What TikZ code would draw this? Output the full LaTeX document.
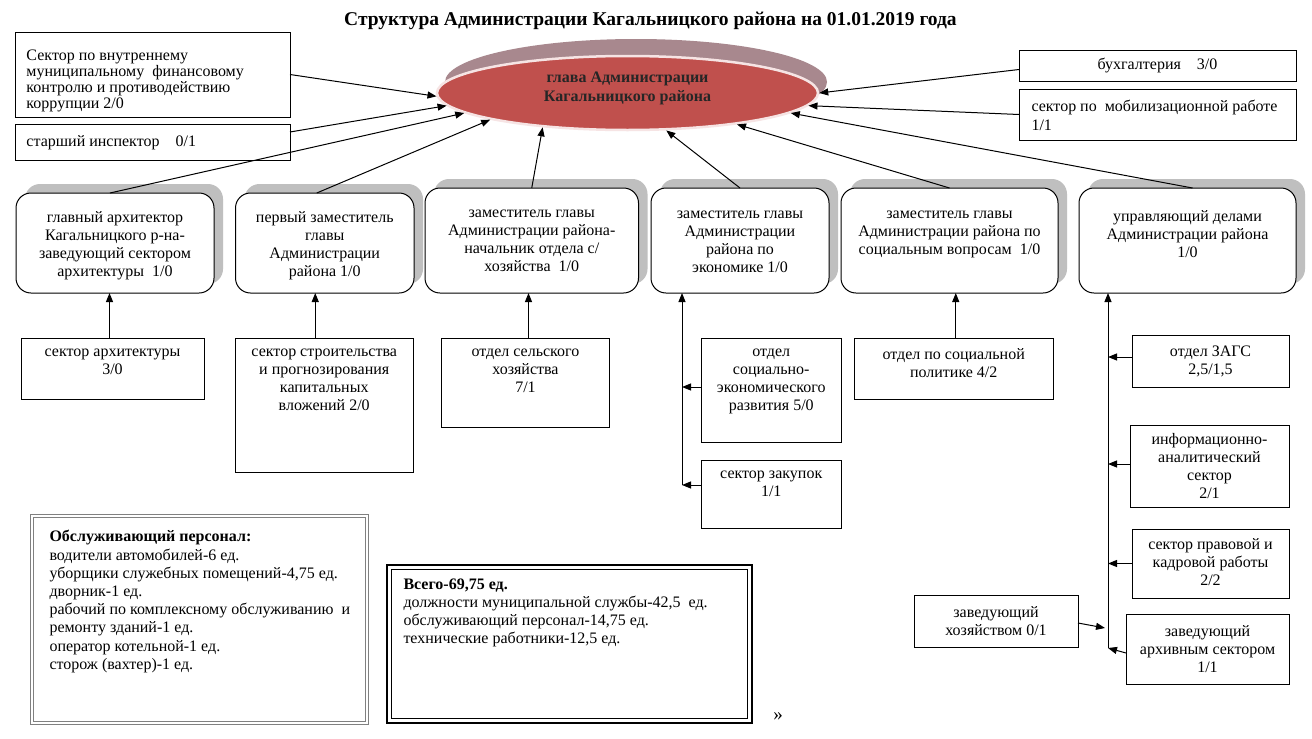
\documentclass[tikz,border=0pt]{standalone}
\usepackage{fontspec}
\setmainfont{Liberation Serif}
\usetikzlibrary{arrows.meta,shapes.geometric,shadows,calc}
\definecolor{headred}{HTML}{C0504D}
\definecolor{headsh}{HTML}{A8888E}
\definecolor{headrim}{HTML}{F6E4E4}
\definecolor{boxsh}{HTML}{BFBFBF}
\begin{document}
\begin{tikzpicture}[x=1pt,y=-1pt, font=\fontsize{16}{18}\selectfont, line width=1pt,
  sq/.style={draw, rectangle, inner sep=0pt, outer sep=0pt},
  rb/.style={draw, rectangle, rounded corners=15pt, fill=white, inner sep=0pt, outer sep=0pt,
     drop shadow={shadow xshift=9pt, shadow yshift=9pt, fill=boxsh, opacity=1}},
  tx/.style={anchor=north, align=center, inner sep=0pt, font=\fontsize{16}{18}\selectfont},
  txl/.style={anchor=north west, align=left, inner sep=0pt, font=\fontsize{16}{18.2}\selectfont},
  arr/.style={-{Triangle[length=9pt,width=7pt]}, line width=1pt},
]
\useasboundingbox (0,0) rectangle (1312,739);
\fill[white] (0,0) rectangle (1312,739);

% title
\node[font=\bfseries\fontsize{19.5}{22}\selectfont] (title) at (650.5,21) {Структура Администрации Кагальницкого района на 01.01.2019 года};

% head
\node[ellipse, fill=headsh, minimum width=382pt, minimum height=86pt, inner sep=0pt] (headshadow) at (636,82) {};
\node[ellipse, fill=headred, draw=headrim, line width=2.5pt, minimum width=381pt, minimum height=74pt, inner sep=0pt,
  label={[anchor=center, align=center, yshift=5pt, inner sep=0pt, text=black!85, font=\bfseries\fontsize{16}{19}\selectfont]center:глава Администрации\\Кагальницкого района}] (head) at (627.5,93) {};

% top-left boxes
\node[sq, minimum width=275pt, minimum height=85pt,
  label={[txl, font=\fontsize{16}{16}\selectfont, xshift=11pt, yshift=-17pt]north west:Сектор по внутреннему\\муниципальному~ финансовому\\контролю и противодействию\\коррупции 2/0}] (boxA) at (152.5,74.5) {};
\node[sq, minimum width=275pt, minimum height=36pt,
  label={[txl, xshift=11pt, yshift=-11pt]north west:старший инспектор\quad 0/1}] (boxB) at (152.5,142) {};

% top-right boxes
\node[sq, minimum width=277pt, minimum height=31pt,
  label={[anchor=center, inner sep=0pt]center:бухгалтерия\quad 3/0}] (buh) at (1157.5,65.5) {};
\node[sq, minimum width=277pt, minimum height=51pt,
  label={[txl, xshift=12pt, yshift=-11pt]north west:сектор по~ мобилизационной работе\\1/1}] (mob) at (1157.5,114.5) {};

% rounded boxes
\node[rb, minimum width=198pt, minimum height=100pt,
  label={[tx, yshift=-18pt]north:главный архитектор\\Кагальницкого р-на-\\заведующий сектором\\архитектуры~ 1/0}] (b1) at (115,243) {};
\node[rb, minimum width=178.5pt, minimum height=100pt,
  label={[tx, yshift=-18pt]north:первый заместитель\\главы\\Администрации\\района 1/0}] (b2) at (324.75,243) {};
\node[rb, minimum width=213.5pt, minimum height=105pt,
  label={[tx, yshift=-21pt]north:заместитель главы\\Администрации района-\\начальник отдела с/\\хозяйства~ 1/0}] (b3) at (531.75,240.5) {};
\node[rb, minimum width=178pt, minimum height=105pt,
  label={[tx, yshift=-22pt]north:заместитель главы\\Администрации\\района по\\экономике 1/0}] (b4) at (740,240.5) {};
\node[rb, minimum width=217pt, minimum height=105pt,
  label={[tx, yshift=-22pt]north:заместитель главы\\Администрации района по\\социальным вопросам~ 1/0}] (b5) at (949.5,240.5) {};
\node[rb, minimum width=217pt, minimum height=105pt,
  label={[tx, yshift=-22pt]north:управляющий делами\\Администрации района\\1/0}] (b6) at (1187.5,240.5) {};

% sub boxes
\node[sq, minimum width=183pt, minimum height=61pt,
  label={[tx, yshift=-10pt]north:сектор архитектуры\\3/0}] (sa) at (112.5,368.5) {};
\node[sq, minimum width=177.5pt, minimum height=134pt,
  label={[tx, yshift=-10pt]north:сектор строительства\\и прогнозирования\\капитальных\\вложений 2/0}] (ss) at (324.25,405) {};
\node[sq, minimum width=168pt, minimum height=89pt,
  label={[tx, yshift=-10pt]north:отдел сельского\\хозяйства\\7/1}] (sh) at (525.5,382.5) {};
\node[sq, minimum width=140.5pt, minimum height=104pt,
  label={[tx, yshift=-10pt]north:отдел\\социально-\\экономического\\развития 5/0}] (sed) at (771.25,390) {};
\node[sq, minimum width=140.5pt, minimum height=68pt,
  label={[tx, yshift=-10pt]north:сектор закупок\\1/1}] (zak) at (771.25,494) {};
\node[sq, minimum width=199.5pt, minimum height=61pt,
  label={[tx, yshift=-10pt]north:отдел по социальной\\политике 4/2}] (soc) at (953.75,368.5) {};
\node[sq, minimum width=157pt, minimum height=52pt,
  label={[tx, yshift=-10pt]north:отдел ЗАГС\\2,5/1,5}] (zags) at (1210.5,361) {};
\node[sq, minimum width=159pt, minimum height=82pt,
  label={[tx, yshift=-8pt]north:информационно-\\аналитический\\сектор\\2/1}] (info) at (1209.5,466) {};
\node[sq, minimum width=157pt, minimum height=69pt,
  label={[tx, yshift=-9pt]north:сектор правовой и\\кадровой работы\\2/2}] (prav) at (1210.5,563.5) {};
\node[sq, minimum width=163pt, minimum height=70pt,
  label={[tx, yshift=-11pt]north:заведующий\\архивным сектором\\1/1}] (arch) at (1207.5,649) {};
\node[sq, minimum width=164pt, minimum height=52pt,
  label={[tx, yshift=-11pt]north:заведующий\\хозяйством 0/1}] (hoz) at (996,621) {};

% bottom boxes
\node[sq, draw=black!50, double=white, double distance=2pt, line width=1pt, minimum width=335pt, minimum height=207pt,
  label={[txl, xshift=17pt, yshift=-14pt]north west:\textbf{Обслуживающий персонал:}\\водители автомобилей-6 ед.\\уборщики служебных помещений-4,75 ед.\\дворник-1 ед.\\рабочий по комплексному обслуживанию~ и\\ремонту зданий-1 ед.\\оператор котельной-1 ед.\\сторож (вахтер)-1 ед.}] (obsl) at (199.5,619.5) {};
\node[sq, line width=2.5pt, minimum width=365pt, minimum height=158pt,
  label={[txl, xshift=16pt, yshift=-13pt]north west:\textbf{Всего-69,75 ед.}\\должности муниципальной службы-42,5~ ед.\\обслуживающий персонал-14,75 ед.\\технические работники-12,5 ед.}] (vs) at (569.5,644) {};
\draw[line width=0.8pt] ($(vs.north west)+(4.5,4.5)$) rectangle ($(vs.south east)+(-4.5,-4.5)$);
\node[font=\fontsize{19}{20}\selectfont] (qq) at (778,717) {»};

% arrows into head
\draw[arr] (boxA.east) -- (head.181);
\draw[arr] ($(boxB.east)+(0,-10)$) -- (head.184);
\draw[arr] ($(b1.north)+(-5,0)$) -- (head.187);
\draw[arr] ($(b2.north)+(-8,0)$) -- (head.191);
\draw[arr] (b3.north) -- (head.202);
\draw[arr] (b4.north) -- (head.316);
\draw[arr] (b5.north) -- (head.344.5);
\draw[arr] ($(b6.north)+(5,0)$) -- (head.353);
\draw[arr] (mob.west) -- (head.356);
\draw[arr] ($(buh.west)+(0,4)$) -- (head.0);

% sub arrows
\draw[arr] ($(sa.north)+(-3,0)$) -- ($(sa.north |- b1.south)+(-3,0)$);
\draw[arr] ($(ss.north)+(-9,0)$) -- ($(ss.north |- b2.south)+(-9,0)$);
\draw[arr] ($(sh.north)+(3,0)$) -- ($(sh.north |- b3.south)+(3,0)$);
\draw[arr] ($(soc.north)+(2,0)$) -- ($(soc.north |- b5.south)+(2,0)$);

% economy line
\coordinate (ebot) at (682,485);
\draw[arr] (ebot) -- (ebot |- b4.south);
\draw[arr] ($(sed.west)+(0,-3)$) -- ($(sed.west -| ebot)+(0,-3)$);
\draw[arr] ($(zak.west)+(0,-9)$) -- ($(zak.west -| ebot)+(0,-9)$);

% manager line
\coordinate (ubot) at (1108,648);
\draw[arr] (ubot) -- (ubot |- b6.south);
\draw[arr] ($(zags.west)+(0,-4)$) -- ($(zags.west -| ubot)+(0,-4)$);
\draw[arr] ($(info.west)+(0,-2)$) -- ($(info.west -| ubot)+(0,-2)$);
\draw[arr] (prav.west) -- (prav.west -| ubot);
\draw[arr] ($(arch.west)+(0,4)$) -- (ubot);
\draw[arr] ($(hoz.east)+(0,2)$) -- ($(ubot)+(-3,-20)$);
\end{tikzpicture}
\end{document}
